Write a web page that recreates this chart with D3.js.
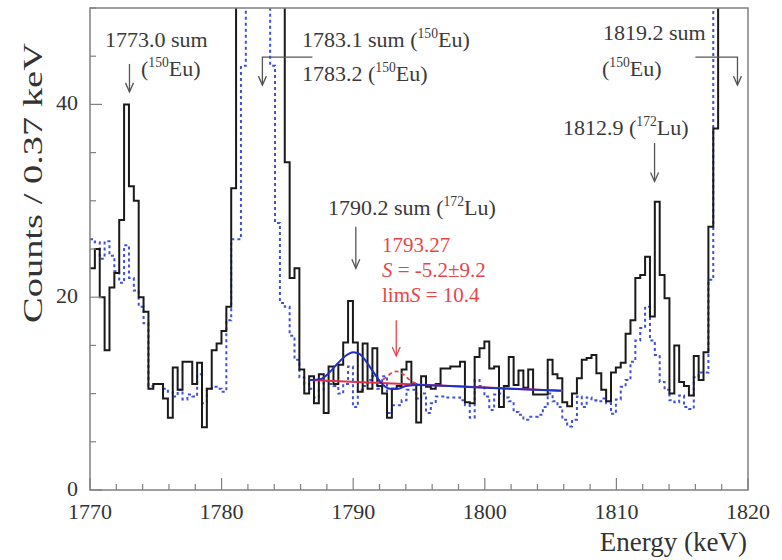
<!DOCTYPE html>
<html>
<head>
<meta charset="utf-8">
<script src="https://cdn.jsdelivr.net/npm/d3@7"></script>
<style>
body { margin: 0; background: #fff; }
</style>
</head>
<body>
<div id="chart"></div>
<script>
'use strict';

// histogram binning (keV)
var binStart = 1770.0;
var binWidth = 0.37;

// measured spectrum (solid black), counts per bin
var dataCounts = [
    23, 25, 20, 14.5, 21, 22.5, 28, 40, 31.5, 30,
    20, 18.5, 10.5, 11, 11, 9.5, 7.5, 12.7, 10.4, 13.3,
    13.3, 11, 13.2, 6.5, 10.5, 14.5, 15.2, 16.5, 19, 31.3,
    62, 95, 160, 210, 180, 140, 120, 150, 110, 70,
    34, 22, 23, 12.5, 10, 11.8, 9, 12, 8, 12.8,
    11, 13, 15.3, 19.6, 15.3, 10.2, 15.2, 10.5, 14.7, 10.8,
    10, 7.5, 10.5, 10.8, 12.5, 13.3, 11, 7, 11.8, 10.7,
    10.5, 11, 12.6, 12.6, 12.8, 12.8, 13.3, 9.1, 9, 13.8,
    14.7, 15.4, 12.6, 12.8, 8.6, 10.8, 13.8, 10.9, 12.4, 10.6,
    12.5, 9.9, 9.9, 9.9, 13.5, 12, 11.6, 9.1, 8.7, 10,
    11.6, 13.5, 13.7, 14, 12.1, 10.4, 9.2, 12.2, 12.7, 13.2,
    16.2, 17.6, 22, 22.3, 24.2, 18, 29.9, 22.3, 19.9, 10,
    15, 11.2, 10.8, 9.8, 13.9, 11.4, 14.3, 27.3, 37.5, 70,
    130, 210, 260, 240, 180, 130
];

// background spectrum (dashed blue), counts per bin
var bkgCounts = [
    26, 25.7, 24, 25.8, 24.3, 22.7, 21.5, 25.4, 22, 20.7,
    19, 17.3, 10.8, 11, 11, 10.5, 10.2, 9.7, 10.4, 9.4,
    9.9, 9.7, 12, 9, 10.5, 10.7, 10.5, 10.2, 17.6, 26,
    26, 44, 70, 140, 200, 170, 90, 44, 27.7, 19.4,
    19, 16, 13.5, 11.7, 11, 10.5, 9.6, 10.4, 11.3, 11,
    10.8, 10, 11, 12.8, 8.6, 10.4, 10.8, 11.4, 11.8, 10.5,
    11.8, 8, 8.8, 8.8, 9.3, 10.4, 10.4, 9.5, 10, 8,
    9, 9.7, 9.7, 9.6, 9.6, 9.6, 9.3, 8.8, 7.5, 11.4,
    10.8, 9.7, 8.3, 9.9, 10, 9.6, 9.2, 8.1, 7.8, 7.3,
    7.6, 7.6, 7.8, 8.6, 10, 9.2, 8.6, 7.3, 6.6, 7.3,
    9.7, 8.6, 9.6, 9.3, 9.2, 9.5, 9, 7.9, 9.4, 10.7,
    11.4, 13.3, 15.5, 16.8, 19, 15.5, 14, 11.2, 10.4, 9.3,
    9.1, 9.8, 8.6, 8.4, 11.7, 12.2, 12.2, 21.8, 60, 120,
    200, 260, 250, 190, 140, 100
];

// fit curve (blue): [energy, counts]
var fitCurve = [
    [1786.7, 11.4], [1787.5, 11.5], [1788.2, 12.2], [1788.8, 13.1],
    [1789.4, 13.9], [1790.0, 14.3], [1790.5, 14.1], [1791.0, 13.3],
    [1791.6, 12.1], [1792.2, 11.0], [1792.8, 10.5], [1793.4, 10.5],
    [1794.0, 10.8], [1795.0, 10.9], [1800.0, 10.6], [1805.8, 10.3]
];

// background line and excluded peak (red)
var bkgLine = [[1786.7, 11.4], [1805.9, 10.3]];
var limCurve = [
    [1791.8, 11.1], [1792.4, 11.6], [1793.0, 12.2], [1793.3, 12.3],
    [1793.8, 12.0], [1794.4, 11.3], [1795.0, 11.0]
];

var xTicks = [1770, 1780, 1790, 1800, 1810, 1820];
var yTicks = [0, 20, 40];

// labels: parts of text, sup = superscript
var labels = [
    { x: 105, y: 47, parts: [{ t: '1773.0 sum' }] },
    { x: 141, y: 76, parts: [{ t: '(' }, { t: '150', sup: true }, { t: 'Eu)' }] },
    { x: 302, y: 47, parts: [{ t: '1783.1 sum (' }, { t: '150', sup: true }, { t: 'Eu)' }] },
    { x: 302, y: 81, parts: [{ t: '1783.2 (' }, { t: '150', sup: true }, { t: 'Eu)' }] },
    { x: 328, y: 215, parts: [{ t: '1790.2 sum (' }, { t: '172', sup: true }, { t: 'Lu)' }] },
    { x: 563, y: 135, parts: [{ t: '1812.9 (' }, { t: '172', sup: true }, { t: 'Lu)' }] },
    { x: 603, y: 40, parts: [{ t: '1819.2 sum' }] },
    { x: 602, y: 76, parts: [{ t: '(' }, { t: '150', sup: true }, { t: 'Eu)' }] }
];
var redLabels = [
    { x: 382, y: 252, parts: [{ t: '1793.27' }] },
    { x: 382, y: 277, parts: [{ t: 'S', it: true }, { t: ' = -5.2\u00b19.2' }] },
    { x: 382, y: 302, parts: [{ t: 'lim' }, { t: 'S', it: true }, { t: ' = 10.4' }] }
];

// arrows in data coords: path points, last point is the head
var arrows = [
    { pts: [[1773.0, 44.2], [1773.0, 41.3]], color: '#555' },
    { pts: [[1786.9, 44.9], [1783.1, 44.9], [1783.1, 42.0]], color: '#555' },
    { pts: [[1790.2, 27.3], [1790.2, 23.0]], color: '#555' },
    { pts: [[1812.9, 36.0], [1812.9, 32.0]], color: '#555' },
    { pts: [[1816.0, 44.9], [1819.2, 44.9], [1819.2, 42.0]], color: '#555' },
    { pts: [[1793.27, 17.6], [1793.27, 13.9]], color: '#e8454a' }
];

var FONT = '"Liberation Serif", "Times New Roman", Times, "DejaVu Serif", serif';
var W = 782, H = 560;
var margin = { left: 90, right: 34, top: 8, bottom: 70 };
var pw = W - margin.left - margin.right;
var ph = H - margin.top - margin.bottom;

var x = d3.scaleLinear().domain([1770, 1820]).range([margin.left, margin.left + pw]);
var y = d3.scaleLinear().domain([0, 50]).range([margin.top + ph, margin.top]);

var svg = d3.select('#chart').append('svg')
    .attr('width', W).attr('height', H)
    .attr('font-family', FONT);

svg.append('clipPath').attr('id', 'plotclip')
    .append('rect')
    .attr('x', margin.left).attr('y', margin.top)
    .attr('width', pw).attr('height', ph);

var plot = svg.append('g').attr('clip-path', 'url(#plotclip)');

function histPoints(counts) {
    var pts = counts.map(function (c, i) { return [binStart + i * binWidth, c]; });
    pts.push([binStart + counts.length * binWidth, counts[counts.length - 1]]);
    return pts;
}

var stepLine = d3.line()
    .x(function (d) { return x(d[0]); })
    .y(function (d) { return y(d[1]); })
    .curve(d3.curveStepAfter);

var smoothLine = d3.line()
    .x(function (d) { return x(d[0]); })
    .y(function (d) { return y(d[1]); })
    .curve(d3.curveMonotoneX);

plot.append('path')
    .datum(histPoints(bkgCounts))
    .attr('d', stepLine)
    .attr('fill', 'none')
    .attr('stroke', '#4050d8')
    .attr('stroke-width', 2)
    .attr('stroke-dasharray', '3,3');

plot.append('path')
    .datum(histPoints(dataCounts))
    .attr('d', stepLine)
    .attr('fill', 'none')
    .attr('stroke', '#1a1a1a')
    .attr('stroke-width', 2);

plot.append('path')
    .datum(bkgLine)
    .attr('d', smoothLine)
    .attr('fill', 'none')
    .attr('stroke', '#e0304a')
    .attr('stroke-width', 2);

plot.append('path')
    .datum(limCurve)
    .attr('d', smoothLine)
    .attr('fill', 'none')
    .attr('stroke', '#e8454a')
    .attr('stroke-width', 1.8)
    .attr('stroke-dasharray', '4,3');

plot.append('path')
    .datum(fitCurve)
    .attr('d', smoothLine)
    .attr('fill', 'none')
    .attr('stroke', '#2030c8')
    .attr('stroke-width', 2);

// frame
svg.append('rect')
    .attr('x', margin.left).attr('y', margin.top)
    .attr('width', pw).attr('height', ph)
    .attr('fill', 'none')
    .attr('stroke', '#808080')
    .attr('stroke-width', 1.5);

// x ticks (inward)
d3.range(1770, 1820.01, 2).forEach(function (v) {
    var major = v % 10 === 0;
    svg.append('line')
        .attr('x1', x(v)).attr('x2', x(v))
        .attr('y1', y(0)).attr('y2', y(0) - (major ? 12 : 6))
        .attr('stroke', '#808080').attr('stroke-width', 1.2);
});
xTicks.forEach(function (v) {
    svg.append('text')
        .attr('x', x(v)).attr('y', 519)
        .attr('text-anchor', 'middle')
        .attr('font-size', 22)
        .attr('fill', '#333')
        .text(v);
});

// y ticks (inward)
d3.range(0, 50.01, 5).forEach(function (v) {
    var major = v % 20 === 0;
    svg.append('line')
        .attr('x1', x(1770)).attr('x2', x(1770) + (major ? 12 : 6))
        .attr('y1', y(v)).attr('y2', y(v))
        .attr('stroke', '#808080').attr('stroke-width', 1.2);
});
yTicks.forEach(function (v) {
    svg.append('text')
        .attr('x', 78).attr('y', y(v) + 6)
        .attr('text-anchor', 'end')
        .attr('font-size', 22)
        .attr('fill', '#333')
        .text(v);
});

// axis titles
svg.append('text')
    .attr('x', 747).attr('y', 551)
    .attr('text-anchor', 'end')
    .attr('font-size', 27)
    .attr('fill', '#333')
    .text('Energy (keV)');

svg.append('text')
    .attr('transform', 'translate(42,183) rotate(-90)')
    .attr('text-anchor', 'middle')
    .attr('font-size', 27)
    .attr('textLength', 280)
    .attr('lengthAdjust', 'spacingAndGlyphs')
    .attr('fill', '#333')
    .text('Counts / 0.37 keV');

// labels
function drawLabel(g, lab, size, color) {
    var t = g.append('text')
        .attr('x', lab.x).attr('y', lab.y)
        .attr('font-size', size)
        .attr('fill', color);
    var raised = false;
    lab.parts.forEach(function (p) {
        var s = t.append('tspan').text(p.t);
        if (p.sup) {
            s.attr('font-size', size * 0.62).attr('dy', -9);
            raised = true;
        } else if (raised) {
            s.attr('dy', 9);
            raised = false;
        }
        if (p.it) s.attr('font-style', 'italic');
    });
}

labels.forEach(function (lab) { drawLabel(svg, lab, 22, '#3a3a3a'); });
redLabels.forEach(function (lab) { drawLabel(svg, lab, 21, '#e8454a'); });

// arrows
var arrowLine = d3.line()
    .x(function (d) { return x(d[0]); })
    .y(function (d) { return y(d[1]); });

arrows.forEach(function (a) {
    svg.append('path')
        .attr('d', arrowLine(a.pts))
        .attr('fill', 'none')
        .attr('stroke', a.color)
        .attr('stroke-width', 1.3);
    var tip = a.pts[a.pts.length - 1];
    var tx = x(tip[0]), ty = y(tip[1]);
    svg.append('path')
        .attr('d', 'M' + (tx - 4) + ',' + (ty - 9) + 'L' + tx + ',' + ty + 'L' + (tx + 4) + ',' + (ty - 9))
        .attr('fill', 'none')
        .attr('stroke', a.color)
        .attr('stroke-width', 1.3);
});
</script>
</body>
</html>
